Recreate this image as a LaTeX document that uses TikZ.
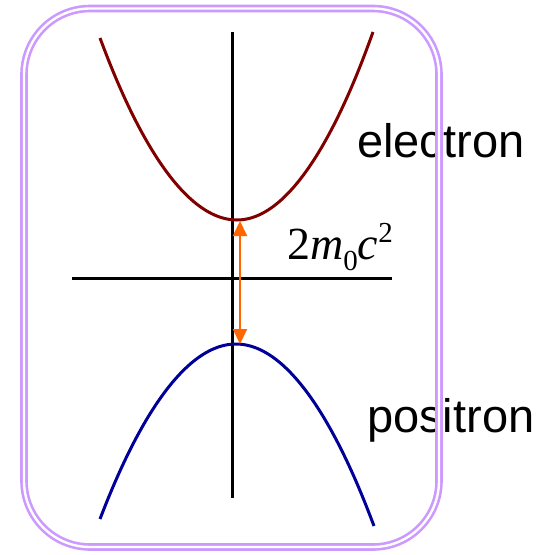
\documentclass[tikz,border=0pt]{standalone}
\usepackage{fontspec}
\setmainfont{Liberation Sans}
\newfontfamily\timesfont{Liberation Serif}
\usetikzlibrary{arrows.meta}
\definecolor{frameLilac}{HTML}{CC99FF}
\definecolor{elecRed}{HTML}{800000}
\definecolor{posiBlue}{HTML}{000099}
\definecolor{gapOrange}{HTML}{FF6600}

\begin{document}
\begin{tikzpicture}[x=1pt, y=-1pt,
    axis/.style={line width=3pt, black},
    band/.style={line width=3pt},
    lbl/.style={inner sep=0pt, anchor=base west, font=\fontsize{47}{56}\selectfont}]
  \useasboundingbox (0,0) rectangle (550,555);
  % axes
  \coordinate (yTop) at (232,32);
  \coordinate (yBot) at (232,498);
  \coordinate (xLeft) at (72,278);
  \coordinate (xRight) at (392,278);
  \draw[axis] (yTop) -- (yBot);
  \draw[axis] (xLeft) -- (xRight);
  % bands
  \coordinate (eLeft) at (100,38);
  \coordinate (eMin) at (237,220);
  \coordinate (eRight) at (373,32);
  \coordinate (pLeft) at (100,519);
  \coordinate (pMax) at (236,344);
  \coordinate (pRight) at (374,526);
  \draw[band, elecRed] (eLeft) parabola bend (eMin) (eRight);
  \draw[band, posiBlue] (pLeft) parabola bend (pMax) (pRight);
  % gap
  \coordinate (gapTop) at (240,221);
  \coordinate (gapBot) at (240,344);
  \draw[gapOrange, line width=2pt, {Triangle[width=14pt,length=15pt]}-{Triangle[width=14pt,length=15pt]}] (gapTop) -- (gapBot);
  \node[inner sep=0pt, anchor=base west] (gap) at (287,259) {\timesfont\fontsize{46}{54}\selectfont 2\textit{m}\raisebox{-11pt}{\fontsize{29}{30}\selectfont 0}\textit{c}\raisebox{17pt}{\fontsize{29}{30}\selectfont 2}};
  \node[lbl] (elec) at (357,157) {electron};
  \node[lbl] (posi) at (367,432) {positron};
  % frame
  \draw[frameLilac, line width=2.6pt, double=white, double distance=2.4pt, rounded corners=66pt] (24,8.5) rectangle (439,547);
\end{tikzpicture}
\end{document}
